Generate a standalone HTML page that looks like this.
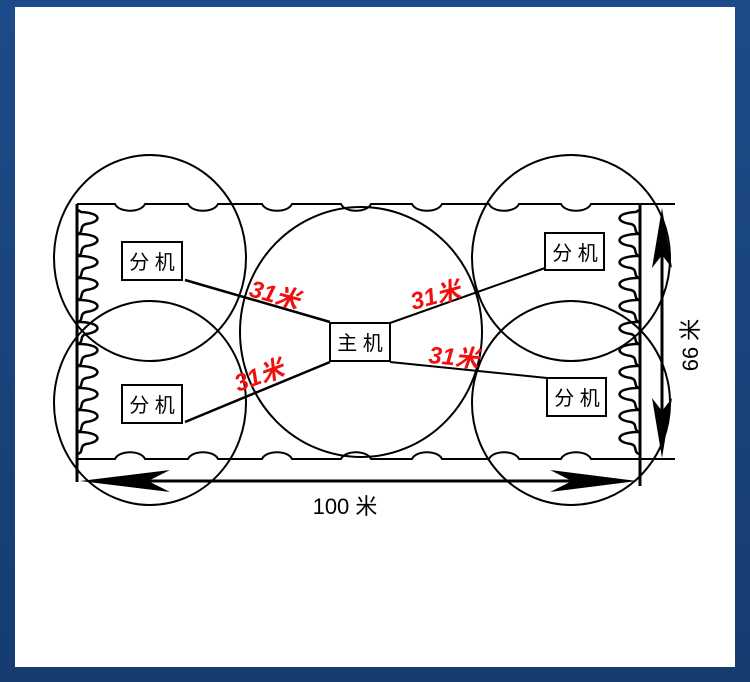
<!DOCTYPE html>
<html><head><meta charset="utf-8"><style>
html,body{margin:0;padding:0}
body{width:750px;height:682px;background:linear-gradient(180deg,#1d4b8a,#163c70);position:relative;overflow:hidden}
#w{position:absolute;left:15px;top:7px;width:720px;height:660px;background:#fff}
svg{position:absolute;left:0;top:0}
.t{font-family:"Liberation Sans","Noto Sans CJK SC",sans-serif}
</style></head><body>
<div id="w"></div>
<svg width="750" height="682" viewBox="0 0 750 682">
<g fill="none" stroke="#000" stroke-width="2">
<ellipse cx="150" cy="258" rx="96" ry="103"/>
<ellipse cx="150" cy="403" rx="96" ry="102"/>
<ellipse cx="361" cy="332" rx="121" ry="125"/>
<ellipse cx="571" cy="258" rx="99" ry="103"/>
<ellipse cx="571" cy="403" rx="99" ry="102"/>
<path id="top" d=""/>
<path id="bot" d=""/>
<line x1="77" y1="204" x2="77" y2="482" stroke-width="3"/>
<line x1="640" y1="204" x2="640" y2="486" stroke-width="3"/>
<path id="lz" d="" stroke-width="2.5"/>
<path id="rz" d="" stroke-width="2.5"/>
<line x1="185" y1="280" x2="330" y2="322" stroke-width="2.5"/>
<line x1="185" y1="422" x2="330" y2="362" stroke-width="2.5"/>
<line x1="390" y1="323" x2="545" y2="268"/>
<line x1="390" y1="362" x2="547" y2="378"/>
<rect x="122" y="242" width="60" height="38"/>
<rect x="122" y="385" width="60" height="38"/>
<rect x="330" y="323" width="60" height="38"/>
<rect x="545" y="233" width="59" height="37"/>
<rect x="547" y="378" width="59" height="38"/>
<line x1="95" y1="481" x2="625" y2="481" stroke-width="3"/>
<line x1="662" y1="220" x2="662" y2="445" stroke-width="3"/>
</g>
<g fill="#000">
<path d="M80,481 L170,470 L148,481 L170,492 Z"/>
<path d="M637,481 L550,470 L572,481 L550,492 Z"/>
<path d="M662,208 L652,268 L662,255 L672,268 Z"/>
<path d="M662,458 L652,398 L662,411 L672,398 Z"/>
</g>
<g class="t" font-size="20" text-anchor="middle">
<text x="152" y="269">分 机</text>
<text x="152" y="412">分 机</text>
<text x="360" y="350">主 机</text>
<text x="575" y="260">分 机</text>
<text x="577" y="405">分 机</text>
<text x="345" y="514" font-size="22">100 米</text>
<text transform="translate(698,345) rotate(-90)" font-size="22">66 米</text>
</g>
<g class="t" font-size="24" font-weight="bold" font-style="italic" fill="#f01010">
<text x="248" y="296" transform="rotate(15 248 296)">31米</text>
<text x="238" y="392" transform="rotate(-20 238 392)">31米</text>
<text x="413" y="310" transform="rotate(-15 413 310)">31米</text>
<text x="428" y="363" transform="rotate(5 428 363)">31米</text>
</g>
</svg>
<script>
var xs=[115,188,262,341,412,489,561];
function line(y,dir){var d="M77,"+y;xs.forEach(function(x){d+=" L"+x+","+y+" C"+(x+4)+","+(y+9*dir)+" "+(x+26)+","+(y+9*dir)+" "+(x+30)+","+y;});return d+" L675,"+y;}
document.getElementById("top").setAttribute("d",line(204,1));
document.getElementById("bot").setAttribute("d",line(459,-1));
function zig(x0,dir){var d="M"+x0+",210";for(var y=212;y<450;y+=22){d+=" L"+(x0+dir*3)+","+y+" C"+(x0+dir*24)+","+(y+1)+" "+(x0+dir*24)+","+(y+10)+" "+(x0+dir*8)+","+(y+12)+" C"+(x0+dir*1)+","+(y+14)+" "+(x0+dir*6)+","+(y+20)+" "+x0+","+(y+22);}return d;}
document.getElementById("lz").setAttribute("d",zig(78,1));
document.getElementById("rz").setAttribute("d",zig(639,-1));
</script>
</body></html>
